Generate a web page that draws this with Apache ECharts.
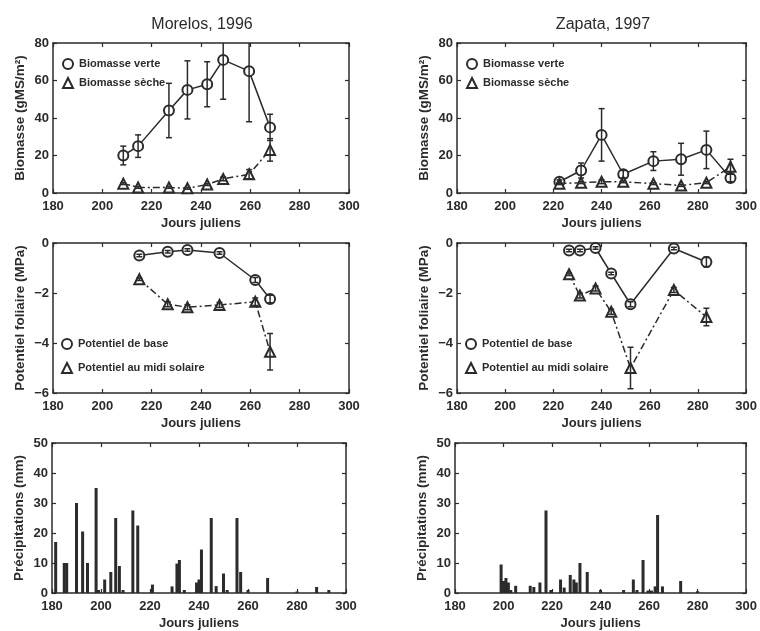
<!DOCTYPE html>
<html>
<head>
<meta charset="utf-8">
<title>Biomasse, potentiel foliaire et précipitations</title>
<script src="https://cdn.jsdelivr.net/npm/echarts@6/dist/echarts.min.js"></script>
<style>
html, body { margin: 0; padding: 0; background: #fff; }
#chart { width: 760px; height: 631px; }
</style>
</head>
<body>
<div id="chart"></div>
<script>
// tick labels
const dayTicks = [180, 200, 220, 240, 260, 280, 300]
const bioTicks = [0, 20, 40, 60, 80]
const potTicks = [-6, -4, -2, 0]
const rainTicks = [0, 10, 20, 30, 40, 50]

// Morelos 1996 — biomasse
const morBioDays = [208.5, 214.5, 227, 234.5, 242.5, 249, 259.5, 268]
const morGreen = [20, 25, 44, 55, 58, 71, 65, 35]
const morGreenErr = [5, 6, 14.5, 15.5, 12, 21, 27, 7]
const morDry = [5, 3, 3, 2.5, 4.5, 7.5, 10, 23]
const morDryErr = [0.5, 0.5, 0.5, 0.5, 0.5, 1, 2.5, 6]

// Zapata 1997 — biomasse
const zapBioDays = [222.5, 231.5, 240, 249, 261.5, 273, 283.5, 293.5]
const zapGreen = [6, 12, 31, 10, 17, 18, 23, 8]
const zapGreenErr = [1, 4, 14, 2, 5, 8.5, 10, 2]
const zapDry = [5, 5.5, 6, 6, 5, 4, 5.5, 14]
const zapDryErr = [0.5, 0.5, 1, 0.5, 0.5, 0.5, 0.5, 4]

// Morelos 1996 — potentiel foliaire
const morPotDays = [215, 226.5, 234.5, 247.5, 262, 268]
const morBase = [-0.5, -0.35, -0.28, -0.4, -1.48, -2.24]
const morBaseErr = [0.05, 0.05, 0.05, 0.05, 0.1, 0.15]
const morMidi = [-1.45, -2.45, -2.57, -2.48, -2.35, -4.35]
const morMidiErr = [0.05, 0.1, 0.1, 0.1, 0.15, 0.73]

// Zapata 1997 — potentiel foliaire
const zapPotDays = [226.5, 231, 237.5, 244, 252, 270, 283.5]
const zapBase = [-0.3, -0.3, -0.2, -1.22, -2.45, -0.22, -0.76]
const zapBaseErr = [0.05, 0.05, 0.05, 0.05, 0.1, 0.05, 0.2]
const zapMidi = [-1.25, -2.1, -1.82, -2.75, -5.0, -1.88, -2.96]
const zapMidiErr = [0.05, 0.1, 0.1, 0.1, 0.83, 0.1, 0.35]

// précipitations journalières
const morRainDays = [181.5, 185, 186, 190, 192.5, 194.5, 198, 199, 201.5, 204, 206, 207.5, 209, 213, 215, 221, 229, 231, 232, 234, 239, 240, 241, 245, 247, 250, 251.5, 255.5, 257, 260, 268, 280, 288, 293]
const morRain = [17, 10, 10, 30, 20.5, 10, 35, 1, 4.5, 7, 25, 9, 1, 27.5, 22.5, 2.8, 2.2, 9.8, 11, 1, 3.5, 4.5, 14.5, 25, 2.3, 6.5, 1, 25, 7, 1, 5, 0.5, 2, 1]
const zapRainDays = [199, 200, 201, 202, 203, 205, 211, 212.5, 215, 217.5, 219.5, 223.5, 225, 227.5, 229, 230, 231.5, 234.5, 240, 249.5, 253.5, 255, 257.5, 259.5, 261, 262.5, 263.5, 265.5, 273, 280]
const zapRain = [9.5, 4, 5, 3.5, 1, 2.4, 2.4, 2, 3.5, 27.5, 1, 4.5, 1.8, 6, 4.5, 3.5, 10, 7, 1, 1, 4.5, 1, 11, 0.8, 0.8, 2.2, 26, 2.2, 4, 0.6]

const ink = '#2b2b2b'
const fontFamily = '"Liberation Sans", Arial, Helvetica, sans-serif'

// one box per panel, row by row
const boxes = [
  { left: 53, top: 43, width: 296, height: 150 },
  { left: 457, top: 43, width: 292, height: 150 },
  { left: 53, top: 243, width: 296, height: 150 },
  { left: 457, top: 243, width: 292, height: 150 },
  { left: 52, top: 443, width: 294, height: 150 },
  { left: 455, top: 443, width: 292, height: 150 }
]
const rowTicks = [bioTicks, potTicks, rainTicks]
const rowNames = ['Biomasse (gMS/m²)', 'Potentiel foliaire (MPa)', 'Précipitations (mm)']

const minus = v => String(v).replace('-', '\u2212')

function makeX(i, mirror) {
  return {
    gridIndex: i, type: 'value', position: mirror ? 'top' : 'bottom',
    min: dayTicks[0], max: dayTicks[dayTicks.length - 1], interval: dayTicks[1] - dayTicks[0],
    name: mirror ? '' : 'Jours juliens', nameLocation: 'middle', nameGap: 24,
    nameTextStyle: { color: ink, fontSize: 13, fontWeight: 'bold', fontFamily },
    axisLine: { onZero: false, lineStyle: { color: ink, width: 1.5 } },
    axisTick: { inside: true, length: 4, lineStyle: { color: ink, width: 1.2 } },
    axisLabel: { show: !mirror, color: ink, fontSize: 13, fontWeight: 'bold', fontFamily, margin: 7 },
    splitLine: { show: false }
  }
}

function makeY(i, mirror) {
  const t = rowTicks[Math.floor(i / 2)]
  return {
    gridIndex: i, type: 'value', position: mirror ? 'right' : 'left',
    min: t[0], max: t[t.length - 1], interval: t[1] - t[0],
    name: mirror ? '' : rowNames[Math.floor(i / 2)], nameLocation: 'middle', nameGap: 26,
    nameTextStyle: { color: ink, fontSize: 13.5, fontWeight: 'bold', fontFamily },
    axisLine: { onZero: false, lineStyle: { color: ink, width: 1.5 } },
    axisTick: { inside: true, length: 4, lineStyle: { color: ink, width: 1.2 } },
    axisLabel: { show: !mirror, color: ink, fontSize: 13, fontWeight: 'bold', fontFamily, margin: 4, formatter: minus },
    splitLine: { show: false }
  }
}

const xAxis = [], yAxis = []
boxes.forEach((b, i) => { xAxis.push(makeX(i, false)); yAxis.push(makeY(i, false)) })
boxes.forEach((b, i) => { xAxis.push(makeX(i, true)); yAxis.push(makeY(i, true)) })

const dashDot = [7, 3, 2, 3]

function lineSeries(name, idx, days, vals, symbol, dashed) {
  return {
    name, type: 'line', xAxisIndex: idx, yAxisIndex: idx,
    data: days.map((d, k) => [d, vals[k]]),
    symbol, symbolSize: 10, showSymbol: true,
    lineStyle: { color: ink, width: 1.5, type: dashed ? dashDot : 'solid' },
    itemStyle: { color: ink, borderWidth: 1.8 },
    animation: false, z: 2
  }
}

function errRender(params, api) {
  const x = api.value(0)
  const p1 = api.coord([x, api.value(1)])
  const p2 = api.coord([x, api.value(2)])
  const w = 3
  const st = { stroke: ink, lineWidth: 1.5 }
  return {
    type: 'group',
    children: [
      { type: 'line', shape: { x1: p1[0], y1: p1[1], x2: p2[0], y2: p2[1] }, style: st },
      { type: 'line', shape: { x1: p1[0] - w, y1: p1[1], x2: p1[0] + w, y2: p1[1] }, style: st },
      { type: 'line', shape: { x1: p2[0] - w, y1: p2[1], x2: p2[0] + w, y2: p2[1] }, style: st }
    ]
  }
}

function errSeries(idx, days, vals, errs) {
  return {
    type: 'custom', xAxisIndex: idx, yAxisIndex: idx, clip: true, silent: true, z: 4,
    data: days.map((d, k) => [d, vals[k] - errs[k], vals[k] + errs[k]]),
    encode: { x: 0, y: [1, 2] },
    renderItem: errRender, animation: false
  }
}

function rainSeries(idx, days, vals) {
  return {
    type: 'bar', xAxisIndex: idx, yAxisIndex: idx,
    data: days.map((d, k) => [d, vals[k]]),
    barWidth: 3, itemStyle: { color: ink }, animation: false
  }
}

const series = [
  lineSeries('Biomasse verte', 0, morBioDays, morGreen, 'emptyCircle', false),
  lineSeries('Biomasse sèche', 0, morBioDays, morDry, 'emptyTriangle', true),
  errSeries(0, morBioDays, morGreen, morGreenErr),
  errSeries(0, morBioDays, morDry, morDryErr),

  lineSeries('Biomasse verte', 1, zapBioDays, zapGreen, 'emptyCircle', false),
  lineSeries('Biomasse sèche', 1, zapBioDays, zapDry, 'emptyTriangle', true),
  errSeries(1, zapBioDays, zapGreen, zapGreenErr),
  errSeries(1, zapBioDays, zapDry, zapDryErr),

  lineSeries('Potentiel de base', 2, morPotDays, morBase, 'emptyCircle', false),
  lineSeries('Potentiel au midi solaire', 2, morPotDays, morMidi, 'emptyTriangle', true),
  errSeries(2, morPotDays, morBase, morBaseErr),
  errSeries(2, morPotDays, morMidi, morMidiErr),

  lineSeries('Potentiel de base', 3, zapPotDays, zapBase, 'emptyCircle', false),
  lineSeries('Potentiel au midi solaire', 3, zapPotDays, zapMidi, 'emptyTriangle', true),
  errSeries(3, zapPotDays, zapBase, zapBaseErr),
  errSeries(3, zapPotDays, zapMidi, zapMidiErr),

  rainSeries(4, morRainDays, morRain),
  rainSeries(5, zapRainDays, zapRain)
]

function legendAt(left, top, names, gap) {
  return {
    left, top, orient: 'vertical', itemGap: gap, itemWidth: 10, itemHeight: 10,
    selectedMode: false,
    data: [{ name: names[0], icon: 'emptyCircle' }, { name: names[1], icon: 'emptyTriangle' }],
    textStyle: { color: ink, fontSize: 11, fontWeight: 'bold', fontFamily, padding: [0, 0, 0, 1] }
  }
}

const bioNames = ['Biomasse verte', 'Biomasse sèche']
const potNames = ['Potentiel de base', 'Potentiel au midi solaire']

const chart = echarts.init(document.getElementById('chart'), null, { renderer: 'canvas' })
chart.setOption({
  backgroundColor: '#fff',
  animation: false,
  grid: boxes.map(b => Object.assign({ show: false, containLabel: false }, b)),
  xAxis, yAxis,
  legend: [
    legendAt(57, 53, bioNames, 7),
    legendAt(461, 53, bioNames, 7),
    legendAt(56, 333, potNames, 12),
    legendAt(460, 333, potNames, 12)
  ],
  graphic: [
    { type: 'text', x: 202, y: 25, style: { text: 'Morelos, 1996', fill: ink, font: '16px ' + fontFamily, textAlign: 'center', textVerticalAlign: 'middle' } },
    { type: 'text', x: 603, y: 25, style: { text: 'Zapata, 1997', fill: ink, font: '16px ' + fontFamily, textAlign: 'center', textVerticalAlign: 'middle' } }
  ],
  series
})
window.addEventListener('resize', () => chart.resize())
</script>
</body>
</html>
